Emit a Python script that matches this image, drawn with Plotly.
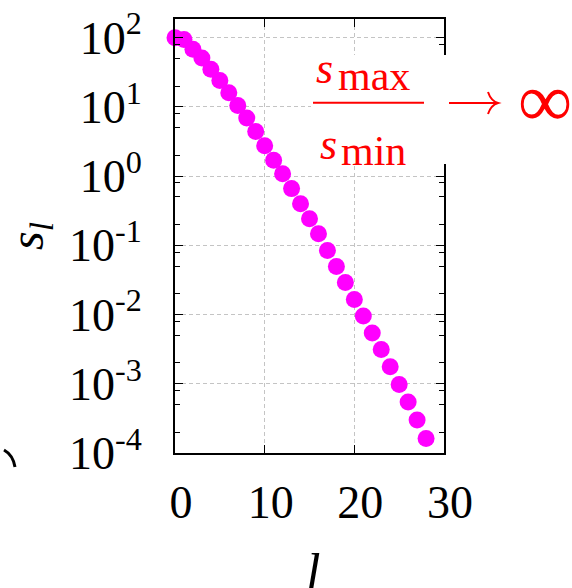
import plotly.graph_objects as go

# ---- data ----
l_index = list(range(29))
s_values = [100, 94, 68, 51, 35, 24, 16, 10.5, 6.9, 4.4, 2.75, 1.7, 1.08, 0.66,
            0.40, 0.242, 0.147, 0.0843, 0.0495, 0.0291, 0.0165, 0.0095, 0.0054,
            0.00313, 0.00176, 0.00098, 0.000545, 0.000299, 0.000162]
x_ticks = [0, 10, 20, 30]
y_ticks = [1e-4, 1e-3, 1e-2, 1e-1, 1e0, 1e1, 1e2]
y_ticktext = ["10<sup>-4</sup>", "10<sup>-3</sup>", "10<sup>-2</sup>", "10<sup>-1</sup>",
              "10<sup>0</sup>", "10<sup>1</sup>", "10<sup>2</sup>"]
y_minor = [m * 10.0 ** k for k in range(-4, 2) for m in (2, 5, 8)]

# ---- layout geometry ----
W, H = 572, 588
L, R, T, B = 175, 128, 19, 135
PW, PH = W - L - R, H - T - B


def px(x):
    return (x - L) / PW


def py(y):
    return (H - B - y) / PH


FONT = "Liberation Serif"
RED = "#ff0000"

fig = go.Figure()
fig.add_trace(go.Scatter(
    x=l_index, y=s_values, mode="markers",
    marker=dict(size=17, color="#ff00ff", line=dict(width=0)),
    cliponaxis=False, showlegend=False,
))

axis_common = dict(
    showline=True, linecolor="black", linewidth=2, mirror="allticks",
    ticks="inside", ticklen=8, tickwidth=1, tickcolor="black",
    showgrid=True, gridcolor="#c4c4c4", gridwidth=1, griddash="4px,3px",
    zeroline=False, automargin=False,
    tickfont=dict(family=FONT, size=46, color="black"),
)

fig.update_xaxes(
    range=[0, 30], tickvals=x_ticks, ticktext=[str(v) for v in x_ticks],
    ticklabelstandoff=8, ticklabelshift=6,
    **axis_common,
)
fig.update_yaxes(
    type="log", range=[-4, 2.27], tickvals=y_ticks, ticktext=y_ticktext,
    ticklabelstandoff=22,
    minor=dict(tickvals=y_minor, ticks="inside", ticklen=5, tickcolor="black", showgrid=False),
    title=dict(text="<i>s</i><sub><i>l</i></sub>", font=dict(family=FONT, size=48, color="black"), standoff=18),
    **axis_common,
)

shapes = [
    dict(type="rect", xref="paper", yref="paper", x0=px(311), x1=px(580), y0=py(164), y1=py(55),
         fillcolor="white", line=dict(width=0), layer="above"),
    dict(type="line", xref="paper", yref="paper", x0=px(313), x1=px(424), y0=py(102.7), y1=py(102.7),
         line=dict(color=RED, width=2), layer="above"),
    # arrow
    dict(type="line", xref="paper", yref="paper", x0=px(449), x1=px(497), y0=py(103), y1=py(103),
         line=dict(color=RED, width=2), layer="above"),
    dict(type="path", xref="paper", yref="paper",
         path=f"M {px(488)},{py(92)} Q {px(491)},{py(101)} {px(498)},{py(103)} Q {px(491)},{py(105)} {px(488)},{py(114)}",
         line=dict(color=RED, width=2), layer="above"),
    dict(type="path", xref="paper", yref="paper",
         path=f"M {px(4)},{py(450)} Q {px(13)},{py(455)} {px(15)},{py(467)}",
         line=dict(color="black", width=3), layer="above"),
]

annotations = [
    dict(text="<i>l</i>", x=px(313), y=py(572), xanchor="center",
         font=dict(family=FONT, size=52, color="black")),
    dict(text="<i>s</i>", x=px(314), y=py(69), font=dict(family=FONT, size=44, color=RED)),
    dict(text="max", x=px(336), y=py(76), font=dict(family=FONT, size=42, color=RED)),
    dict(text="<i>s</i>", x=px(318), y=py(144), font=dict(family=FONT, size=44, color=RED)),
    dict(text="min", x=px(339), y=py(151), font=dict(family=FONT, size=42, color=RED)),
    dict(text="∞", x=px(516), y=py(100), font=dict(family=FONT, size=76, color=RED)),
]
for a in annotations:
    a.setdefault("xanchor", "left")
    a.update(xref="paper", yref="paper", yanchor="middle", showarrow=False)

fig.update_layout(
    width=W, height=H, margin=dict(l=L, r=R, t=T, b=B),
    paper_bgcolor="white", plot_bgcolor="white",
    shapes=shapes, annotations=annotations,
)

fig.write_html("out.html")
